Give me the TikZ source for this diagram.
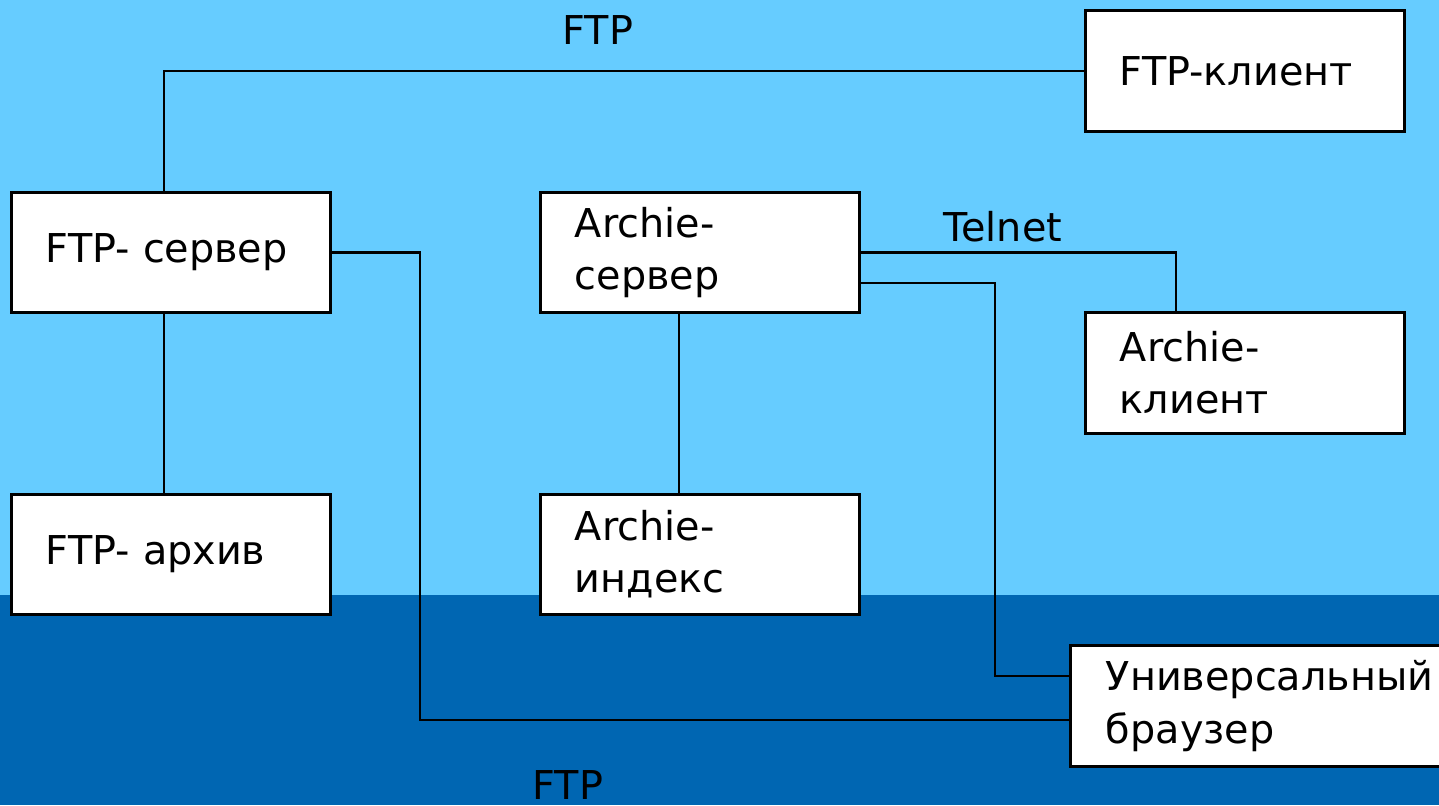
\documentclass[tikz,border=0pt]{standalone}
\usepackage{fontspec}
\setmainfont{DejaVu Sans}
\definecolor{lightbg}{HTML}{66CCFF}
\definecolor{darkbg}{HTML}{0066B2}
\begin{document}
\begin{tikzpicture}[x=0.01cm,y=-0.01cm,
  box/.style={draw=black, line width=0.85pt, fill=white, rectangle,
    minimum width=3.18cm, minimum height=1.2cm, inner xsep=0.34cm, inner ysep=0pt,
    text width=2.5cm, align=left, font=\fontsize{11.3}{14.8}\selectfont},
  lbl/.style={font=\fontsize{11.3}{14.8}\selectfont, inner sep=0pt},
  conn/.style={draw=black, line width=0.6pt}]
\useasboundingbox (0,0) rectangle (1439,805);
\clip (0,0) rectangle (1439,805);
\fill[lightbg] (0,0) rectangle (1439,595);
\fill[darkbg] (0,595) rectangle (1439,805);

\node[box] (fcl) at (1245,71) {FTP-клиент};
\node[box] (fsrv) at (171,252.5) {FTP- сервер};
\node[box] (farc) at (171,554.5) {FTP- архив};
\node[box] (asrv) at (700,252.5) {Archie-\\сервер};
\node[box] (aidx) at (700,554.5) {Archie-\\индекс};
\node[box] (acl) at (1245,373) {Archie-\\клиент};
\node[box, minimum width=3.8cm, text width=3.1cm] (brw) at (1261,706) {Универсальный\\браузер};

\node[lbl] (l1) at (598,30) {FTP};
\node[lbl] (l2) at (1003,227) {Telnet};
\node[lbl] (l3) at (568,785) {FTP};

\coordinate (c1) at (164,0);
\coordinate (c2) at (420,0);
\coordinate (c3) at (1176,0);
\coordinate (c4) at (995,0);
\coordinate (c5) at (0,720);
\coordinate (c6) at (0,676);
\coordinate (c7) at (0,283);
\coordinate (c8) at (679,0);

\draw[conn] (c1 |- fsrv.north) |- (fcl.west);
\draw[conn] (c1 |- fsrv.south) -- (c1 |- farc.north);
\draw[conn] (fsrv.east) -| (c2 |- c5) -- (brw.west |- c5);
\draw[conn] (asrv.east) -| (c3 |- acl.north);
\draw[conn] (asrv.east |- c7) -| (c4 |- c6) -- (brw.west |- c6);
\draw[conn] (c8 |- asrv.south) -- (c8 |- aidx.north);
\end{tikzpicture}
\end{document}
